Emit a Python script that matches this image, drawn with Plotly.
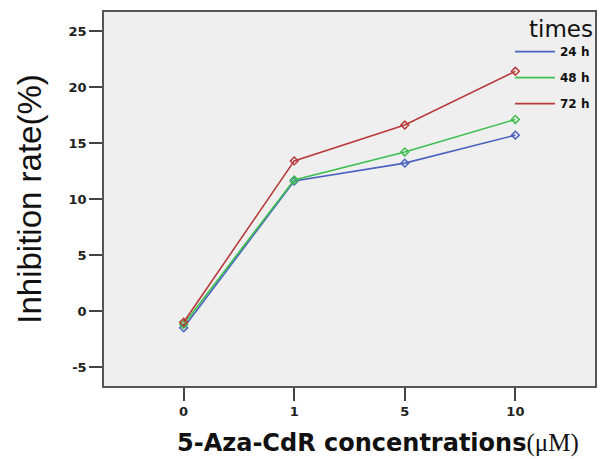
import plotly.graph_objects as go

concentrations = ["0", "1", "5", "10"]
series_names = ["24 h", "48 h", "72 h"]
rate_24h = [-1.5, 11.6, 13.2, 15.7]
rate_48h = [-1.2, 11.7, 14.2, 17.1]
rate_72h = [-1.0, 13.4, 16.6, 21.4]
colors = ["#4a62c0", "#3dbf4f", "#b83a3a"]
y_ticks = [-5, 0, 5, 10, 15, 20, 25]

xpos = list(range(len(concentrations)))
fig = go.Figure()
for i, (name, vals, col) in enumerate(zip(series_names, [rate_24h, rate_48h, rate_72h], colors)):
    fig.add_trace(go.Scatter(
        x=xpos, y=vals, name=name, mode="lines+markers", showlegend=False,
        line=dict(color=col, width=1.6),
        marker=dict(symbol="diamond-open", size=6, color=col, line=dict(width=1.5, color=col)),
    ))
for i, (name, col) in enumerate(zip(series_names, colors)):
    fig.add_trace(go.Scatter(
        x=[None], y=[None], name="<b>%s</b>" % name, mode="lines", legendgroup="g%d" % i,
        line=dict(color=col, width=1.6),
    ))

fig.update_layout(
    width=603, height=459,
    margin=dict(l=104, r=8, t=11, b=73),
    paper_bgcolor="white",
    plot_bgcolor="#efefef",
    font=dict(family="Liberation Sans, Arial", color="#222"),
    legend=dict(
        x=1.0, xanchor="right", y=1.01, yanchor="top",
        bgcolor="rgba(0,0,0,0)",
        title=dict(text="times", font=dict(size=23, color="#111"), side="top right"),
        font=dict(size=12, color="#111", family="DejaVu Sans"),
        tracegroupgap=7, itemwidth=40,
    ),
    xaxis=dict(
        range=[-0.72, 3.72], tickmode="array", tickvals=xpos,
        ticktext=["<b>%s</b>" % c for c in concentrations],
        showgrid=False, zeroline=False, showline=True, linecolor="#555", linewidth=1.5, mirror=True,
        ticks="outside", ticklen=13, tickcolor="#444", tickwidth=1.5,
        tickfont=dict(size=13, color="#222", family="DejaVu Sans"),
        automargin=False,
    ),
    yaxis=dict(
        range=[-6.69, 26.69], tickmode="array", tickvals=y_ticks,
        ticktext=["<b>%d</b>" % v for v in y_ticks],
        showgrid=False, zeroline=False, showline=True, linecolor="#555", linewidth=1.5, mirror=True,
        ticks="outside", ticklen=13, tickcolor="#444", tickwidth=1.5,
        tickfont=dict(size=13, color="#222", family="DejaVu Sans"),
        automargin=False,
        title=dict(text="Inhibition rate(%)", font=dict(size=33, color="#111"), standoff=17),
    ),
    annotations=[dict(
        text="<b>5-Aza-CdR concentrations</b><span style='font-family:Liberation Serif;font-size:25px'>(μM)</span>",
        xref="paper", yref="paper", x=0.558, y=-0.152, xanchor="center", yanchor="middle",
        showarrow=False, font=dict(size=24, color="#111", family="DejaVu Sans"),
    )],
)
fig.write_html("out.html", config={"displayModeBar": False},
               post_script="document.body.style.margin='0';")
